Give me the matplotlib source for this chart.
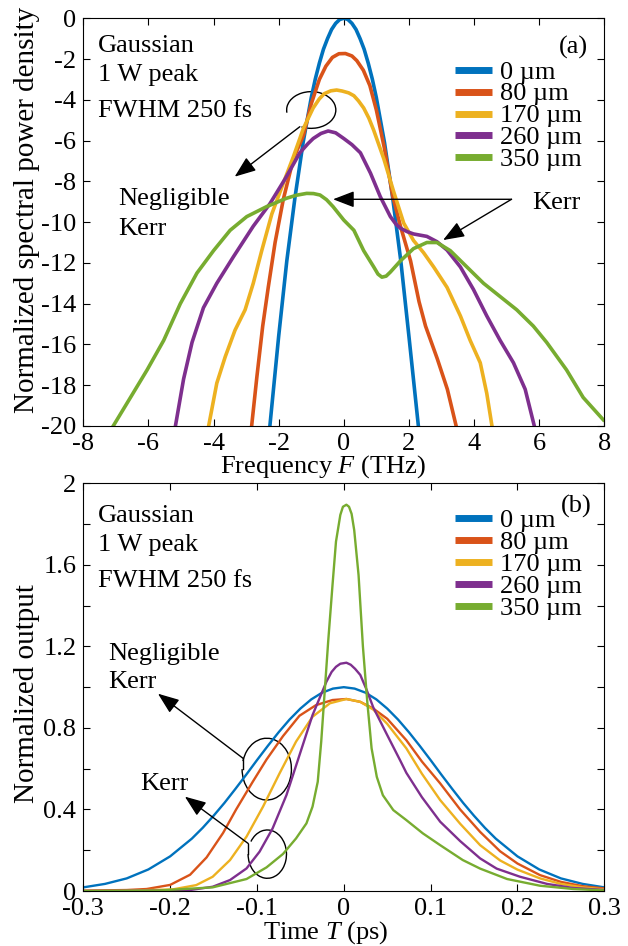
import matplotlib
matplotlib.use("Agg")
import matplotlib.pyplot as plt
from matplotlib.patches import Arc

# ---- panel (a): spectra, dB vs THz ----
blue_f = [-2.27, -2.0, -1.75, -1.5, -1.25, -1.0, -0.875, -0.75, -0.625, -0.5,
          -0.375, -0.25, -0.125, 0.0, 0.125, 0.25, 0.375, 0.5, 0.625, 0.75,
          0.875, 1.0, 1.25, 1.5, 1.75, 2.0, 2.29]
blue_s = [-20.0, -15.6, -11.9, -8.8, -6.1, -3.9, -2.98, -2.2, -1.52, -1.0,
          -0.55, -0.25, -0.06, 0.0, -0.06, -0.25, -0.55, -1.0, -1.52, -2.2,
          -2.98, -3.9, -6.1, -8.8, -11.9, -15.6, -20.0]

orange_f = [-2.83, -2.67, -2.49, -2.32, -2.11, -1.86, -1.55, -1.24, -1.0, -0.75,
            -0.55, -0.35, -0.15, 0.05, 0.25, 0.4, 0.6, 0.8, 1.0, 1.25,
            1.5, 1.74, 2.05, 2.31, 2.51, 2.87, 3.18, 3.45]
orange_s = [-20.0, -17.6, -15.1, -13.2, -11.0, -8.9, -6.9, -5.75, -4.2, -3.0,
            -2.35, -1.92, -1.74, -1.73, -1.85, -2.08, -2.55, -3.3, -4.5, -6.4,
            -8.7, -10.2, -11.9, -13.9, -15.1, -16.7, -18.2, -20.0]

yellow_f = [-4.15, -3.9, -3.64, -3.34, -3.03, -2.78, -2.52, -2.21, -1.86, -1.55,
            -1.24, -0.94, -0.75, -0.6, -0.4, -0.22, -0.05, 0.15, 0.31, 0.45,
            0.61, 0.77, 0.92, 1.23, 1.53, 1.84, 2.14, 2.45, 2.76, 3.17,
            3.58, 3.88, 4.19, 4.39, 4.55]
yellow_s = [-20.0, -17.9, -16.6, -15.3, -14.3, -13.0, -11.4, -9.6, -8.1, -6.8,
            -5.4, -4.4, -3.95, -3.7, -3.56, -3.52, -3.57, -3.66, -3.8, -4.05,
            -4.4, -4.9, -5.5, -6.9, -8.5, -10.05, -10.9, -11.5, -12.2, -13.2,
            -14.6, -15.8, -16.9, -18.4, -20.0]

purple_f = [-5.17, -4.92, -4.66, -4.31, -3.9, -3.39, -2.78, -2.27, -1.81, -1.35,
            -1.1, -0.94, -0.7, -0.48, -0.25, 0.0, 0.25, 0.51, 0.82, 1.12,
            1.43, 1.6, 1.74, 1.95, 2.14, 2.55, 2.86, 3.17, 3.58, 3.98,
            4.39, 4.8, 5.21, 5.57, 5.85]
purple_s = [-20.0, -17.7, -15.9, -14.2, -13.0, -11.7, -10.2, -9.1, -7.9, -6.6,
            -6.15, -5.9, -5.65, -5.53, -5.62, -5.9, -6.2, -6.6, -7.6, -8.75,
            -9.73, -10.1, -10.3, -10.47, -10.58, -10.7, -10.96, -11.37, -12.2, -13.3,
            -14.6, -15.8, -16.9, -18.2, -20.0]

green_f = [-7.08, -6.55, -6.04, -5.53, -5.02, -4.51, -4.0, -3.49, -2.98, -2.37,
           -1.76, -1.45, -1.14, -0.93, -0.73, -0.53, -0.33, 0.0, 0.31, 0.61,
           0.92, 1.05, 1.17, 1.3, 1.43, 1.74, 2.14, 2.55, 2.86, 3.27,
           3.78, 4.29, 4.8, 5.31, 5.82, 6.23, 6.84, 7.35, 7.97]
green_s = [-20.0, -18.6, -17.25, -15.8, -14.0, -12.5, -11.4, -10.4, -9.73, -9.24,
           -8.83, -8.68, -8.59, -8.6, -8.67, -8.9, -9.24, -9.9, -10.4, -11.4,
           -12.2, -12.55, -12.7, -12.65, -12.45, -11.9, -11.3, -11.0, -11.0, -11.4,
           -12.2, -13.0, -13.65, -14.3, -15.1, -15.9, -17.25, -18.6, -19.7]

# ---- panel (b): normalized output vs time (ps) ----
blue_t = [-0.3, -0.275, -0.25, -0.225, -0.2, -0.175, -0.1625, -0.15, -0.1375, -0.125,
          -0.1125, -0.1, -0.0875, -0.075, -0.0625, -0.05, -0.0375, -0.025, -0.0125, 0.0,
          0.0125, 0.025, 0.0375, 0.05, 0.0625, 0.075, 0.0875, 0.1, 0.1125, 0.125,
          0.1375, 0.15, 0.1625, 0.175, 0.2, 0.225, 0.25, 0.275, 0.3]
blue_p = [0.018, 0.035, 0.062, 0.106, 0.170, 0.257, 0.310, 0.369, 0.432, 0.500,
          0.570, 0.642, 0.712, 0.779, 0.841, 0.895, 0.940, 0.973, 0.993, 1.000,
          0.993, 0.973, 0.940, 0.895, 0.841, 0.779, 0.712, 0.642, 0.570, 0.500,
          0.432, 0.369, 0.310, 0.257, 0.170, 0.106, 0.062, 0.035, 0.018]

orange_t = [-0.3, -0.25, -0.227, -0.2, -0.177, -0.158, -0.139, -0.124, -0.105, -0.089,
            -0.07, -0.051, -0.032, -0.013, 0.003, 0.019, 0.034, 0.05, 0.072, 0.09,
            0.111, 0.134, 0.157, 0.18, 0.2, 0.226, 0.25, 0.275, 0.3]
orange_p = [0.002, 0.005, 0.01, 0.03, 0.08, 0.165, 0.285, 0.40, 0.535, 0.645,
            0.76, 0.86, 0.912, 0.937, 0.942, 0.928, 0.895, 0.845, 0.74, 0.635,
            0.528, 0.40, 0.29, 0.195, 0.135, 0.078, 0.045, 0.024, 0.013]

yellow_t = [-0.3, -0.25, -0.197, -0.17, -0.151, -0.131, -0.112, -0.093, -0.074, -0.055,
            -0.036, -0.016, 0.003, 0.019, 0.034, 0.05, 0.072, 0.09, 0.111, 0.134,
            0.157, 0.18, 0.2, 0.226, 0.25, 0.275, 0.3]
yellow_p = [0.0, 0.002, 0.008, 0.029, 0.07, 0.152, 0.267, 0.414, 0.577, 0.733,
            0.855, 0.921, 0.942, 0.928, 0.89, 0.82, 0.70, 0.575, 0.446, 0.33,
            0.225, 0.15, 0.105, 0.062, 0.035, 0.018, 0.008]

purple_t = [-0.3, -0.2, -0.177, -0.151, -0.131, -0.112, -0.097, -0.082, -0.066, -0.051,
            -0.036, -0.02, -0.014, -0.009, -0.004, 0.003, 0.008, 0.013, 0.019, 0.026,
            0.034, 0.05, 0.065, 0.072, 0.09, 0.111, 0.134, 0.157, 0.176, 0.203,
            0.234, 0.264, 0.3]
purple_p = [0.0, 0.002, 0.005, 0.021, 0.054, 0.111, 0.193, 0.307, 0.471, 0.667,
            0.863, 1.027, 1.075, 1.10, 1.115, 1.12, 1.11, 1.09, 1.06, 0.99,
            0.90, 0.765, 0.64, 0.58, 0.46, 0.34, 0.245, 0.16, 0.11, 0.07,
            0.035, 0.015, 0.005]

green_t = [-0.3, -0.216, -0.151, -0.112, -0.089, -0.07, -0.055, -0.043, -0.036, -0.03,
           -0.026, -0.022, -0.018, -0.013, -0.009, -0.004, -0.001, 0.003, 0.006, 0.009,
           0.012, 0.017, 0.022, 0.027, 0.032, 0.038, 0.045, 0.057, 0.072, 0.091,
           0.111, 0.137, 0.157, 0.188, 0.226, 0.264, 0.3]
green_p = [0.0, 0.002, 0.018, 0.059, 0.116, 0.182, 0.258, 0.332, 0.414, 0.536,
           0.733, 0.978, 1.223, 1.501, 1.714, 1.845, 1.885, 1.895, 1.885, 1.85,
           1.77, 1.55, 1.2, 0.93, 0.70, 0.56, 0.47, 0.397, 0.348, 0.283,
           0.225, 0.152, 0.11, 0.059, 0.026, 0.01, 0.003]

labels = ["0 \u00b5m", "80 \u00b5m", "170 \u00b5m", "260 \u00b5m", "350 \u00b5m"]
colors = ["#0072BD", "#D95319", "#EDB120", "#7E2F8E", "#77AC30"]

spec = [(blue_f, blue_s), (orange_f, orange_s), (yellow_f, yellow_s),
        (purple_f, purple_s), (green_f, green_s)]
pulse = [(blue_t, blue_p), (orange_t, orange_p), (yellow_t, yellow_p),
         (purple_t, purple_p), (green_t, green_p)]

freq_ticks = [-8, -6, -4, -2, 0, 2, 4, 6, 8]
db_ticks = [0, -2, -4, -6, -8, -10, -12, -14, -16, -18, -20]
time_ticks = [-0.3, -0.2, -0.1, 0, 0.1, 0.2, 0.3]
time_labels = ["-0.3", "-0.2", "-0.1", "0", "0.1", "0.2", "0.3"]
out_ticks = [0, 0.2, 0.4, 0.6, 0.8, 1.0, 1.2, 1.4, 1.6, 1.8, 2.0]
out_labels = ["0", "", "0.4", "", "0.8", "", "1.2", "", "1.6", "", "2"]

plt.rcParams.update({
    "font.family": "Liberation Serif",
    "mathtext.fontset": "custom",
    "mathtext.rm": "Liberation Serif",
    "mathtext.it": "Liberation Serif:italic",
    "axes.unicode_minus": False,
    "font.size": 19,
})

FS = 19
ARROW = dict(arrowstyle="-|>,head_length=0.65,head_width=0.25",
             mutation_scale=20, color="k", lw=1.0, shrinkA=0, shrinkB=0)

fig = plt.figure(figsize=(6.28, 9.46), dpi=100)
ax1 = fig.add_axes([0.1326, 0.5497, 0.8297, 0.431])
ax2 = fig.add_axes([0.1326, 0.0581, 0.8297, 0.431])


def style(ax):
    ax.tick_params(direction="in", top=True, right=True, length=5, width=0.8,
                   labelsize=FS, pad=5)
    for s in ax.spines.values():
        s.set_linewidth(0.8)


def legend(ax, y0, dy):
    for i, (lab, c) in enumerate(zip(labels, colors)):
        y = y0 - i * dy
        ax.plot([0.7134, 0.7845], [y, y], transform=ax.transAxes, color=c,
                lw=5, solid_capstyle="butt", clip_on=False)
        ax.text(0.80, y - 0.021, lab, transform=ax.transAxes, fontsize=FS,
                va="baseline", ha="left")


def header(ax, ys):
    for txt, y in zip(["Gaussian", "1 W peak", "FWHM 250 fs"], ys):
        ax.text(0.028, y, txt, transform=ax.transAxes, fontsize=FS, va="baseline")


# ---------- (a) ----------
for (x, y), c in zip(spec, colors):
    ax1.plot(x, y, color=c, lw=2.6, solid_joinstyle="round")
ax1.set_xlim(-8, 8)
ax1.set_ylim(-20, 0)
ax1.set_xticks(freq_ticks)
ax1.set_xticklabels([str(v) for v in freq_ticks])
ax1.set_yticks(db_ticks)
ax1.set_yticklabels([str(v) for v in db_ticks])
style(ax1)
ax1.set_xlabel("Frequency $F$ (THz)", fontsize=FS)
ax1.xaxis.set_label_coords(0.46, -0.066)
ax1.set_ylabel("Normalized spectral power density", fontsize=21)
ax1.yaxis.set_label_coords(-0.083, 0.53)

header(ax1, [0.918, 0.847, 0.758])
ax1.text(0.9405, 0.929, "(a)", transform=ax1.transAxes, fontsize=FS,
         ha="center", va="center")
legend(ax1, 0.873, 0.0535)

ax1.text(0.067, 0.542, "Negligible", transform=ax1.transAxes, fontsize=FS, va="baseline")
ax1.text(0.067, 0.468, "Kerr", transform=ax1.transAxes, fontsize=FS, va="baseline")
ax1.text(0.861, 0.531, "Kerr", transform=ax1.transAxes, fontsize=FS, va="baseline")

ax1.add_patch(Arc((-1.0, -4.5), 1.51, 1.80, theta1=250, theta2=190, color="k", lw=1.0))
ax1.annotate("", xy=(-3.35, -7.77), xytext=(-1.35, -5.32), arrowprops=ARROW)
ax1.annotate("", xy=(-0.33, -8.88), xytext=(5.15, -8.88), arrowprops=ARROW)
ax1.annotate("", xy=(3.05, -10.88), xytext=(5.15, -8.88), arrowprops=ARROW)

# ---------- (b) ----------
for (x, y), c in zip(pulse, colors):
    ax2.plot(x, y, color=c, lw=1.7, solid_joinstyle="round")
ax2.set_xlim(-0.3, 0.3)
ax2.set_ylim(0, 2)
ax2.set_xticks(time_ticks)
ax2.set_xticklabels(time_labels)
ax2.set_yticks(out_ticks)
ax2.set_yticklabels(out_labels)
style(ax2)
ax2.set_xlabel("Time $T$ (ps)", fontsize=FS)
ax2.xaxis.set_label_coords(0.465, -0.068)
ax2.set_ylabel("Normalized output", fontsize=21)
ax2.yaxis.set_label_coords(-0.083, 0.485)

header(ax2, [0.906, 0.834, 0.746])
ax2.text(0.947, 0.943, "(b)", transform=ax2.transAxes, fontsize=FS,
         ha="center", va="center")
legend(ax2, 0.915, 0.054)

ax2.text(0.048, 0.567, "Negligible", transform=ax2.transAxes, fontsize=FS, va="baseline")
ax2.text(0.048, 0.497, "Kerr", transform=ax2.transAxes, fontsize=FS, va="baseline")
ax2.text(0.109, 0.248, "Kerr", transform=ax2.transAxes, fontsize=FS, va="baseline")

ax2.add_patch(Arc((-0.0887, 0.598), 0.0568, 0.303, theta1=180, theta2=125, color="k", lw=1.0))
ax2.plot([-0.116, -0.116], [0.651, 0.598], color="k", lw=1.0)
ax2.annotate("", xy=(-0.214, 0.968), xytext=(-0.116, 0.651), arrowprops=ARROW)

ax2.add_patch(Arc((-0.0881, 0.181), 0.0442, 0.237, theta1=180, theta2=107, color="k", lw=1.0))
ax2.plot([-0.110, -0.110], [0.233, 0.181], color="k", lw=1.0)
ax2.annotate("", xy=(-0.183, 0.463), xytext=(-0.110, 0.233), arrowprops=ARROW)

fig.savefig("out.png", dpi=100)
